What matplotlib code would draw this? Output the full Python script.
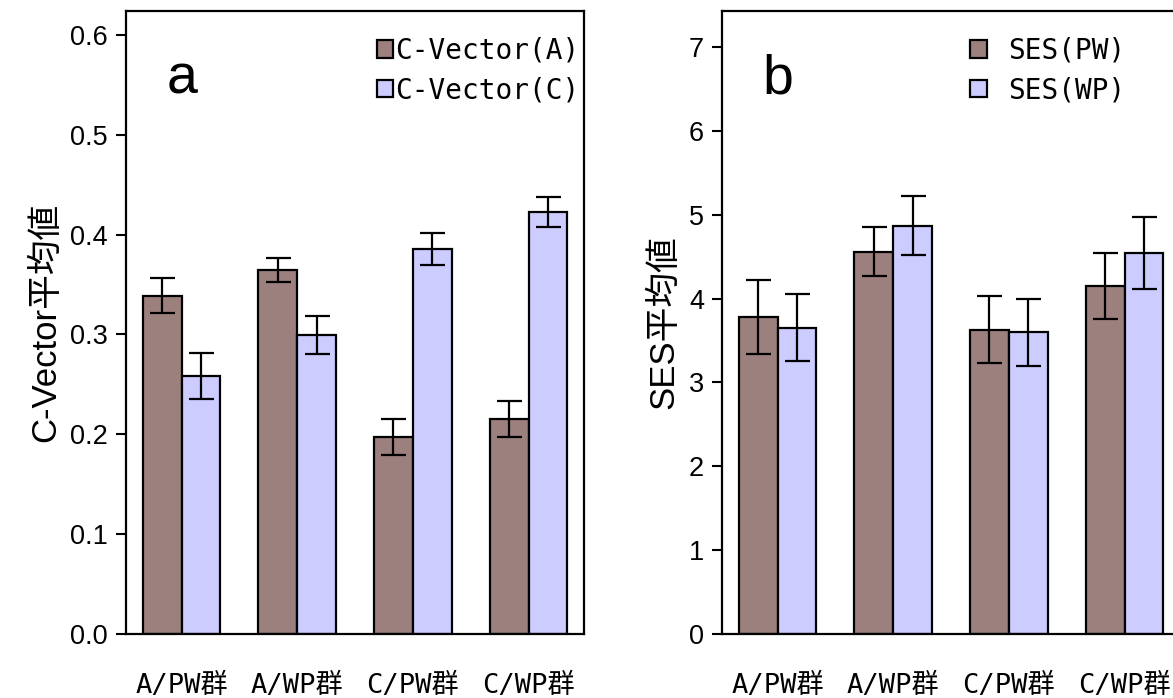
import matplotlib
matplotlib.use("Agg")
import numpy as np
from matplotlib import pyplot as plt

groups = ["A/PW群", "A/WP群", "C/PW群", "C/WP群"]

# panel a
cv_a = [0.339, 0.365, 0.197, 0.215]
cv_a_err = [0.018, 0.012, 0.018, 0.018]
cv_c = [0.258, 0.299, 0.386, 0.423]
cv_c_err = [0.023, 0.019, 0.016, 0.015]

# panel b
ses_pw = [3.78, 4.56, 3.63, 4.15]
ses_pw_err = [0.44, 0.29, 0.40, 0.39]
ses_wp = [3.65, 4.87, 3.60, 4.54]
ses_wp_err = [0.40, 0.35, 0.40, 0.43]

BROWN = "#9c807d"
BLUE = "#ccccff"
SANS = ["Liberation Sans", "Noto Sans CJK JP", "DejaVu Sans"]
MONO = ["DejaVu Sans Mono", "Noto Sans CJK JP", "DejaVu Sans"]

plt.rcParams["font.family"] = SANS


def panel(ax, s1, e1, s2, e2, names, ylim, yticks, fmt, ylabel, letter, leg_x, leg_pad):
    x = np.arange(len(groups))
    w = 0.335
    kw = dict(edgecolor="black", linewidth=1.6, zorder=2)
    ekw = dict(elinewidth=1.6, capthick=1.6, capsize=9, ecolor="black")
    ax.bar(x - w / 2, s1, w, yerr=e1, color=BROWN, label=names[0], error_kw=ekw, **kw)
    ax.bar(x + w / 2, s2, w, yerr=e2, color=BLUE, label=names[1], error_kw=ekw, **kw)
    ax.set_xlim(-0.48, 3.48)
    ax.set_ylim(*ylim)
    ax.set_yticks(yticks)
    ax.set_yticklabels([fmt.format(v) for v in yticks])
    ax.set_xticks(x)
    ax.set_xticklabels(groups, family=MONO)
    ax.tick_params(axis="x", length=0, pad=28, labelsize=19.5)
    ax.tick_params(axis="y", length=7, width=1.5, direction="out", labelsize=19.5, pad=6)
    for s in ax.spines.values():
        s.set_linewidth(1.6)
    ax.set_ylabel(ylabel, fontsize=25, labelpad=6)
    ax.text(0.122, 0.868, letter, transform=ax.transAxes, fontsize=40,
            ha="center", va="baseline", family=["Liberation Sans", "DejaVu Sans"])
    ax.legend(loc="upper left", bbox_to_anchor=(leg_x, 0.99), frameon=False,
              handlelength=0.6, handleheight=0.6, handletextpad=leg_pad,
              labelspacing=0.42, borderaxespad=0.3,
              prop={"family": MONO, "size": 20})


fig = plt.figure(figsize=(11.73, 6.98), dpi=100)
ax1 = fig.add_axes([0.1074, 0.0917, 0.3905, 0.8926])
ax2 = fig.add_axes([0.6155, 0.0917, 0.3905, 0.8926])

panel(ax1, cv_a, cv_a_err, cv_c, cv_c_err, ["C-Vector(A)", "C-Vector(C)"],
      (0, 0.624), np.arange(0, 0.61, 0.1), "{:.1f}", "C-Vector平均値", "a", 0.505, 0.05)
panel(ax2, ses_pw, ses_pw_err, ses_wp, ses_wp_err, ["SES(PW)", "SES(WP)"],
      (0, 7.43), np.arange(0, 8, 1), "{:.0f}", "SES平均値", "b", 0.50, 0.75)

fig.savefig("out.png", dpi=100)
